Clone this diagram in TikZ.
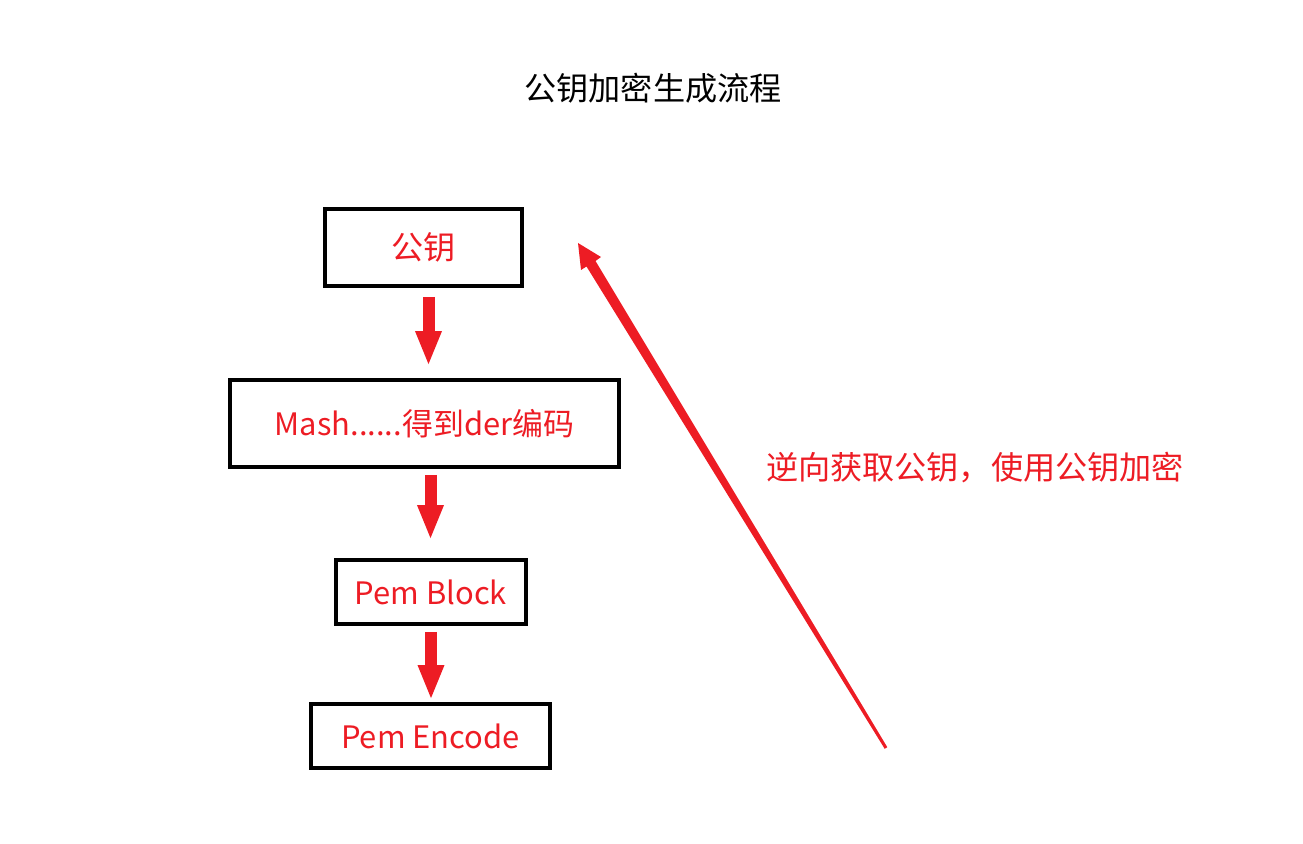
\documentclass[tikz,border=0pt]{standalone}
\usepackage{fontspec}
\setmainfont{Noto Sans CJK SC}
\usetikzlibrary{arrows.meta,positioning,calc}
\definecolor{keyred}{RGB}{237,28,36}
\tikzset{
	stepbox/.style={draw,line width=0.08cm,inner sep=0pt,text=keyred,font=\fontsize{17.6}{20}\selectfont},
	cjktext/.style={font=\fontsize{18.3}{21}\selectfont},
	blockarrow/.style={keyred,line width=0.24cm,-{Triangle[width=0.48cm,length=0.7cm]}}
}
\begin{document}
\begin{tikzpicture}[x=0.02cm,y=-0.02cm]
	\useasboundingbox (0,0) rectangle (1303,844);

	\node[cjktext] at (653, 88) (title) {公钥加密生成流程};

	\node[stepbox,cjktext,minimum width=3.94cm,minimum height=1.54cm] at (423.5, 247.5) (pubkey) {公钥};
	\node[stepbox,minimum width=7.78cm,minimum height=1.74cm] at (424.5, 423.5) (mash) {Mash......得到der编码};
	\node[stepbox,minimum width=3.8cm,minimum height=1.28cm] at (431, 592) (pemblock) {Pem Block};
	\node[stepbox,minimum width=4.78cm,minimum height=1.28cm] at (430.5, 736) (pemencode) {Pem Encode};

	\draw[blockarrow,shorten <=0.18cm,shorten >=0.24cm] ([xshift=0.1cm]pubkey.south) -- ([xshift=0.1cm]pubkey.south |- mash.north);
	\draw[blockarrow,shorten <=0.12cm,shorten >=0.36cm] ([xshift=0.12cm]mash.south) -- ([xshift=0.12cm]mash.south |- pemblock.north);
	\draw[blockarrow,shorten <=0.12cm,shorten >=0.04cm] (pemblock.south) -- (pemblock.south |- pemencode.north);

	% reverse arrow, tapered
	\coordinate (revstart) at (886, 748);
	\coordinate (revtip) at (578, 243);
	\fill[keyred] (revtip) -- (601, 257) -- (595.5, 261) -- (887.3, 747.2) -- (884.7, 748.8) -- (586.5, 266.5) -- (581, 270) -- cycle;

	\node[cjktext,text=keyred] at (975, 468) (reverse) {逆向获取公钥，使用公钥加密};
\end{tikzpicture}
\end{document}
